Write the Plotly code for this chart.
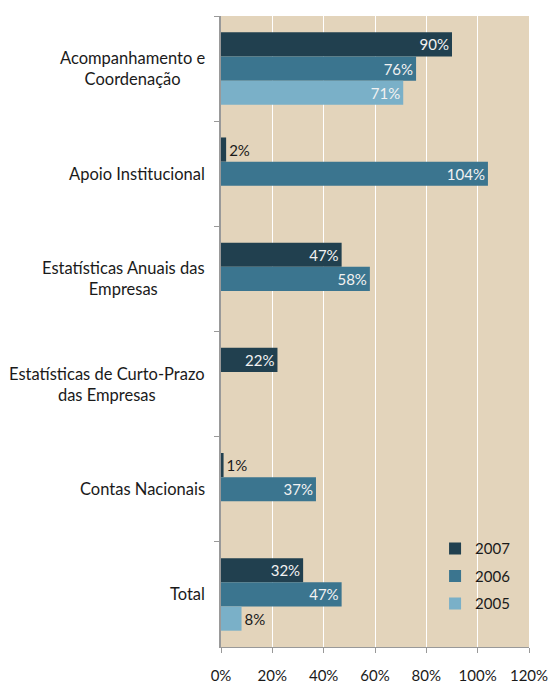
import plotly.graph_objects as go

categories = ["Acompanhamento e<br>Coordenação", "Apoio Institucional",
              "Estatísticas Anuais das<br>Empresas", "Estatísticas de Curto-Prazo<br>das Empresas",
              "Contas Nacionais", "Total"]
series_names = ["2007", "2006", "2005"]
values_2007 = [90, 2, 47, 22, 1, 32]
values_2006 = [76, 104, 58, None, 37, 47]
values_2005 = [71, None, None, None, None, 8]
colors = ["#21404f", "#3b758f", "#7ab0c8"]
x_ticks = [0, 20, 40, 60, 80, 100, 120]
x_tick_labels = ["0%", "20%", "40%", "60%", "80%", "100%", "120%"]

FONT = "Lato"
fig = go.Figure()
for name, vals, col in zip(series_names, [values_2007, values_2006, values_2005], colors):
    pos = ["outside" if (v is not None and v < 10) else "inside" for v in vals]
    txt = [f"{v}%" if v is not None else "" for v in vals]
    fig.add_trace(go.Bar(
        y=categories, x=vals, name=name, orientation="h",
        marker=dict(color=col, line=dict(width=0)),
        text=txt, texttemplate="%{text}", textposition=pos, insidetextanchor="end",
        insidetextfont=dict(color="#f2f2f2", size=15, family=FONT),
        outsidetextfont=dict(color="#1a1a1a", size=15, family=FONT),
        textangle=0, constraintext="none", cliponaxis=False,
        legendgroup=name, hoverinfo="skip",
    ))

for c in categories:
    fig.add_annotation(x=-0.045, xref="paper", y=c, yref="y", text=c, showarrow=False,
                       xanchor="right", align="center", font=dict(size=16.5, family=FONT, color="#1a1a1a"))

fig.update_layout(
    template="none",
    width=550, height=684,
    margin=dict(l=221, r=21, t=16, b=37, autoexpand=False),
    barmode="group", bargap=0.31, bargroupgap=0,
    plot_bgcolor="#e3d4bb", paper_bgcolor="white",
    font=dict(family=FONT, size=15, color="#1a1a1a"),
    legend=dict(x=0.695, y=0.182, xanchor="left", yanchor="top", bgcolor="rgba(0,0,0,0)",
                tracegroupgap=5, font=dict(size=15), itemwidth=30),
    xaxis=dict(range=[0, 120], tickvals=x_ticks, ticktext=x_tick_labels, showgrid=True,
               gridcolor="white", gridwidth=1, zeroline=False, showline=True, linecolor="#999",
               ticks="outside", ticklen=5, tickcolor="#999", ticklabelstandoff=10,
               tickfont=dict(size=15), automargin=False),
    yaxis=dict(autorange="reversed", showticklabels=False, showline=True, linecolor="#999",
               linewidth=1.5, ticks="outside", ticklen=5, tickcolor="#999", tickson="boundaries",
               showgrid=False, automargin=False),
)
fig.write_html("out.html", config={"displayModeBar": False},
               post_script="document.body.style.margin='0';")
